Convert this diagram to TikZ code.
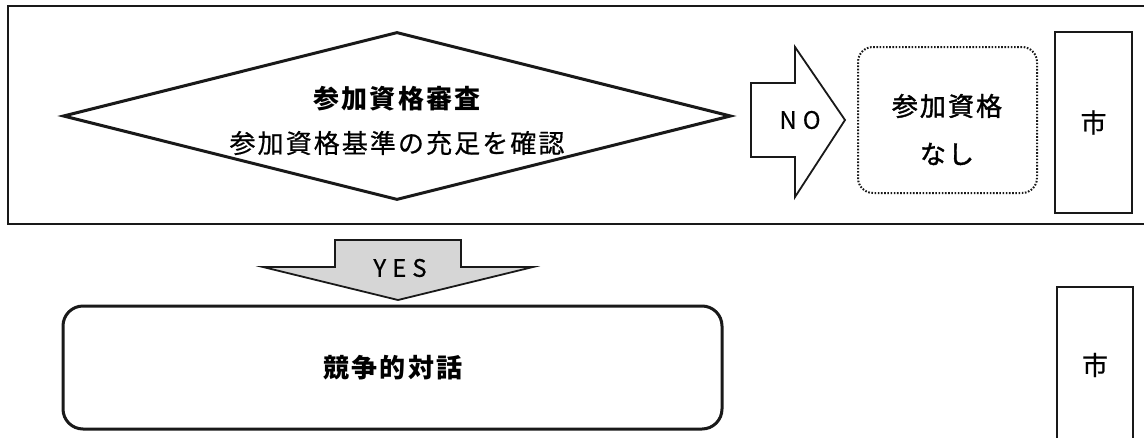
\documentclass[tikz,border=0pt]{standalone}
\usepackage{fontspec}
\setmainfont{Noto Sans CJK JP}
\usetikzlibrary{shapes.geometric}
\tikzset{
  frame/.style={draw=black!90, line width=1.8pt},
  thick2/.style={draw=black!90, line width=3pt},
  blockarrow/.style={draw=black!90, line width=1.8pt, line join=miter},
  jp/.style={inner sep=0pt, font=\fontsize{26}{30}\selectfont\addfontfeature{LetterSpace=8,FakeBold=0.6}},
  jpb/.style={inner sep=0pt, font=\fontsize{26}{30}\selectfont\bfseries\addfontfeature{LetterSpace=8}},
  lat/.style={inner sep=0pt, font=\fontsize{24}{28}\selectfont\addfontfeature{LetterSpace=25,FakeBold=0.5}},
}
\begin{document}
\begin{tikzpicture}[x=1pt,y=-1pt]
\useasboundingbox (0,0) rectangle (1144,437);
\fill[white] (0,0) rectangle (1144,437);
% outer frame (right side off page)
\draw[frame] (1150,6) -- (8,6) -- (8,224) -- (1150,224);
% diamond
\node[diamond, thick2, minimum width=668pt, minimum height=168pt, inner sep=0pt] (dia) at (397,116) {};
\node[jpb] (t1) at (397,99) {参加資格審査};
\node[jp] (t2) at (397,143) {参加資格基準の充足を確認};
% NO arrow
\draw[blockarrow, fill=white] (751,83) coordinate (noA) -- (795,83) -- (795,47) -- (845,120) coordinate (noTip) -- (795,197) -- (795,157) -- (751,157) -- cycle;
\node[lat] (no) at (800,120) {NO};
% dotted box
\node[draw=black!90, line width=2pt, dash pattern=on 1.6pt off 1.6pt, rounded corners=15pt, minimum width=179pt, minimum height=146pt, inner sep=0pt] (nasi) at (947.5,120) {};
\node[jp, font=\fontsize{26}{30}\selectfont\addfontfeature{FakeBold=1.5,LetterSpace=8}] (n1) at (947,106) {参加資格};
\node[jp, font=\fontsize{26}{30}\selectfont\addfontfeature{FakeBold=1.5,LetterSpace=8}] (n2) at (947,154) {なし};
% 市 top
\node[draw=black!90, line width=1.8pt, minimum width=77pt, minimum height=181pt, inner sep=0pt] (shi1) at (1093.5,122.5) {};
\node[jp] at (shi1.center) {市};
% YES arrow
\draw[blockarrow, fill=black!16] (335,240) -- (461,240) -- (461,267) -- (533,267) -- (398,300) coordinate (yesTip) -- (263,267) -- (335,267) -- cycle;
\node[lat] (yes) at (400,268) {YES};
% rounded rect
\node[thick2, rounded corners=20pt, minimum width=659pt, minimum height=123pt, inner sep=0pt] (dial) at (392.5,367.5) {};
\node[jpb] at (393,368) {競争的対話};
% 市 bottom
\draw[draw=black!90, line width=1.8pt] (1057,445) -- (1057,287) coordinate (s2a) -- (1133,287) -- (1133,445);
\coordinate (shi2) at (1095,365);
\node[jp] at (shi2) {市};
\end{tikzpicture}
\end{document}
